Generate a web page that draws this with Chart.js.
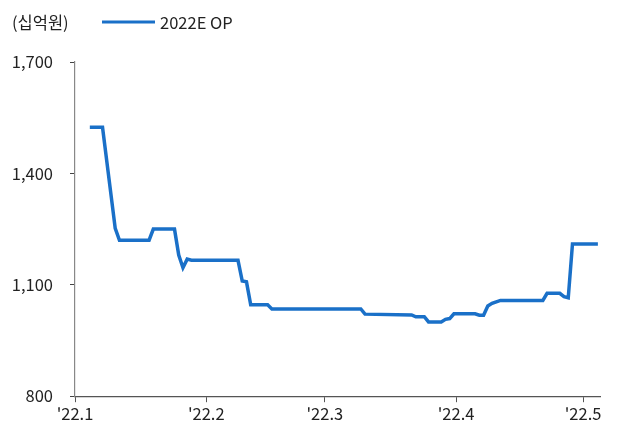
<!DOCTYPE html>
<html>
<head>
<meta charset="utf-8">
<script src="https://cdn.jsdelivr.net/npm/chart.js@4"></script>
<style>
  html, body { margin: 0; padding: 0; background: #fff; }
  #wrap { width: 626px; height: 431px; }
</style>
</head>
<body>
<div id="wrap"><canvas id="c" width="626" height="431"></canvas></div>
<script>
// 2022E operating profit consensus (십억원), by date
const dates = ['01-04','01-07','01-10','01-11','01-18','01-19','01-24','01-25','01-26','01-27','01-28',
               '02-08','02-09','02-10','02-11','02-15','02-16',
               '03-09','03-10','03-21','03-22','03-24','03-25','03-28','03-29','03-30','03-31',
               '04-05','04-06','04-07','04-08','04-09','04-11','04-21','04-22','04-25','04-26','04-27','04-28','05-04'];
const op2022E = [1524,1524,1252,1220,1220,1250,1250,1180,1146,1169,1166,
                 1166,1110,1108,1046,1046,1035,
                 1035,1021,1019,1014,1014,1000,1000,1007,1009,1022,
                 1022,1018,1018,1043,1050,1058,1058,1077,1077,1068,1065,1210,1210];

const monthTicks = ['01-01','02-01','03-01','04-01','05-01'];
const monthLabels = ["'22.1","'22.2","'22.3","'22.4","'22.5"];
const yTicks = [800, 1100, 1400, 1700];

const unitLabel = '(십억원)';
const seriesName = '2022E OP';
const lineColor = '#1a70c8';
const FONT = "'Noto Sans CJK KR', 'Noto Sans', sans-serif";

// day offset from Jan 1 (midnight); daily values sit at noon
const monthStart = [0, 31, 59, 90, 120];
function dayOf(md) {
  const [m, d] = md.split('-').map(Number);
  return monthStart[m - 1] + (d - 1);
}
const points = dates.map((d, i) => ({ x: dayOf(d) + 0.5, y: op2022E[i] }));
const tickPos = monthTicks.map(dayOf);

const header = {
  id: 'header',
  afterDraw(chart) {
    const ctx = chart.ctx;
    ctx.save();
    ctx.font = '16.5px ' + FONT;
    ctx.fillStyle = '#222';
    ctx.textBaseline = 'middle';
    ctx.textAlign = 'left';
    ctx.fillText(unitLabel, 12, 23);
    ctx.strokeStyle = lineColor;
    ctx.lineWidth = 3;
    ctx.beginPath();
    ctx.moveTo(102, 22);
    ctx.lineTo(155, 22);
    ctx.stroke();
    ctx.fillText(seriesName, 160, 23);
    ctx.restore();
  }
};

new Chart(document.getElementById('c'), {
  type: 'line',
  data: {
    datasets: [{
      label: seriesName,
      data: points,
      borderColor: lineColor,
      borderWidth: 3.5,
      pointRadius: 0,
      tension: 0,
      fill: false
    }]
  },
  options: {
    responsive: false,
    animation: false,
    layout: { padding: { top: 62, right: 26, left: 0, bottom: 5 } },
    plugins: { legend: { display: false }, tooltip: { enabled: false } },
    scales: {
      x: {
        type: 'linear',
        min: 0,
        max: 124,
        afterBuildTicks(scale) { scale.ticks = tickPos.map(v => ({ value: v })); },
        ticks: {
          autoSkip: false,
          maxRotation: 0,
          color: '#222',
          font: { family: FONT, size: 16.5 },
          padding: 2,
          callback(v) { const i = tickPos.indexOf(v); return i >= 0 ? monthLabels[i] : ''; }
        },
        grid: { drawOnChartArea: false, drawTicks: true, tickLength: 6, color: '#555' },
        border: { display: true, color: '#555', width: 1.2 }
      },
      y: {
        min: 800,
        max: 1700,
        afterBuildTicks(scale) { scale.ticks = yTicks.map(v => ({ value: v })); },
        afterFit(scale) { scale.width = 75; },
        ticks: {
          color: '#222',
          font: { family: FONT, size: 16.5 },
          padding: 17,
          callback(v) { return v.toLocaleString('en-US'); }
        },
        grid: { drawOnChartArea: false, drawTicks: true, tickLength: 5, color: '#444' },
        border: { display: true, color: '#888', width: 1.2 }
      }
    }
  },
  plugins: [header]
});
</script>
</body>
</html>
